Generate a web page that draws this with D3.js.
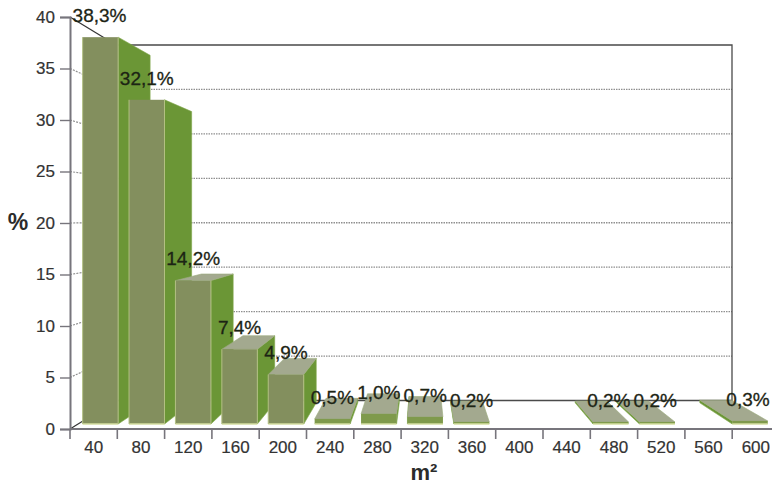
<!DOCTYPE html>
<html>
<head>
<meta charset="utf-8">
<script src="https://cdn.jsdelivr.net/npm/d3@7"></script>
<style>
html,body{margin:0;padding:0;background:#fff;overflow:hidden}
svg{display:block}
text{font-family:"Liberation Sans",Arial,sans-serif}
</style>
</head>
<body>
<svg id="chart" width="772" height="484"></svg>
<script>
const categories = ["40","80","120","160","200","240","280","320","360","400","440","480","520","560","600"];
const shares = [38.3,32.1,14.2,7.4,4.9,0.5,1.0,0.7,0.2,0,0,0.2,0.2,0,0.3];
const shareLabels = ["38,3%","32,1%","14,2%","7,4%","4,9%","0,5%","1,0%","0,7%","0,2%","","","0,2%","0,2%","","0,3%"];
const valueTicks = [0,5,10,15,20,25,30,35,40];

const svg = d3.select("#chart");
const AXIS = "#77757c", INK = "#2b2b2b";

// Axis scales on the front plane of the box
const yAxisScale = d3.scaleLinear().domain([0,40]).range([429,17]);
const xAxisScale = d3.scaleBand().domain(categories).range([70,779.5]);

// Scales for the bars' front faces and for the back wall
const yFront = d3.scaleLinear().domain([0,40]).range([424,20]);
const yWall = d3.scaleLinear().domain([0,40]).range([400.5,45]);
const xFront = d3.scaleBand().domain(categories).range([77.2,773.2]).paddingInner(0.235).paddingOuter(0.117);

// Perspective: a point on a bar's front face maps to its rear edge
const toBack = ([x,y]) => [44.4 + 0.895*x, 21.9 + 0.8985*y];
const vanishX = 423, vanishY = 216;
const wallLeft = 116, wallRight = 732;

// Back wall outline and gridlines
const grid = svg.append("g");
valueTicks.filter(v => v>0 && v<40).forEach(v => {
  grid.append("line").attr("x1",wallLeft).attr("x2",wallRight)
    .attr("y1",yWall(v)).attr("y2",yWall(v))
    .attr("stroke","#8f8f8f").attr("stroke-width",1.3).attr("stroke-dasharray","1.5 1");
});
valueTicks.forEach(v => {
  const edge = v===0 || v===40;
  grid.append("line").attr("x1",70).attr("x2",wallLeft)
    .attr("y1",yAxisScale(v)).attr("y2",yWall(v))
    .attr("stroke",edge ? "#333" : "#8f8f8f").attr("stroke-width",1.2)
    .attr("stroke-dasharray",edge ? null : "2 1.2");
});
grid.append("path")
  .attr("d",d3.line()([[wallLeft,yWall(0)],[wallRight,yWall(0)],[wallRight,yWall(40)],[wallLeft,yWall(40)]]))
  .attr("fill","none").attr("stroke","#4a4a4a").attr("stroke-width",1.3);

// Axes
const yAxis = d3.axisLeft(yAxisScale).tickValues(valueTicks).tickSize(10).tickPadding(5);
const gy = svg.append("g").attr("transform","translate(70,0)").call(yAxis);
const gx = svg.append("g").attr("transform","translate(0,429)")
  .call(d3.axisBottom(xAxisScale).tickSize(0).tickPadding(12));
gx.selectAll(".tick line").remove();
gx.selectAll(".tick").data(categories).append("line")
  .attr("x1",-xAxisScale.step()/2).attr("x2",-xAxisScale.step()/2)
  .attr("y1",0).attr("y2",10).attr("stroke",AXIS).attr("stroke-width",1.6);
gx.selectAll(".domain").attr("d","M70,0H772");
[gx,gy].forEach(g => {
  g.selectAll(".domain").attr("stroke",AXIS).attr("stroke-width",2);
  g.selectAll("text").attr("font-size",17).attr("fill","#333")
    .attr("stroke","#333").attr("stroke-width",0.2)
    .style("font-family",'"Liberation Sans",Arial,sans-serif');
});
gy.selectAll(".tick line").attr("stroke",AXIS).attr("stroke-width",1.4);

// Bars, painted left to right so nearer faces cover their neighbours' sides
const barGroup = svg.append("g");
const pts = a => a.map(p => p.join(",")).join(" ");
categories.forEach((c,i) => {
  const v = shares[i];
  if (!v) return;
  const x0 = xFront(c), x1 = x0 + xFront.bandwidth();
  const yT = yFront(v), yB = yFront(0);
  const g = barGroup.append("g");
  // Only the faces turned towards the viewpoint are drawn
  const sx = x1 < vanishX ? x1 : x0;
  g.append("polygon")
    .attr("points",pts([[sx,yT],toBack([sx,yT]),toBack([sx,yB]),[sx,yB]]))
    .attr("fill","#6b9636").attr("stroke","#7fa64a").attr("stroke-width",.6);
  if (yT > vanishY) {
    g.append("polygon")
      .attr("points",pts([[x0,yT],[x1,yT],toBack([x1,yT]),toBack([x0,yT])]))
      .attr("fill","#a3a98f").attr("stroke","#9bab7c").attr("stroke-width",.6);
  }
  g.append("rect").attr("x",x0).attr("y",yT).attr("width",x1-x0).attr("height",yB-yT)
    .attr("fill",v<2 ? "#7f9a4c" : "#838f5e");
  g.append("line").attr("x1",x0).attr("x2",x1).attr("y1",yB).attr("y2",yB)
    .attr("stroke","#d5dea2").attr("stroke-width",1.6);
  if (v>=2) {
    [x0,x1].forEach(x => g.append("line").attr("x1",x).attr("x2",x).attr("y1",yT).attr("y2",yB)
      .attr("stroke","#b3c084").attr("stroke-width",1));
  }
});

// Value labels
svg.append("g").selectAll("text").data(categories).join("text")
  .attr("x",(c,i) => i===0 ? 99.5 : xFront(c)+xFront.bandwidth()/2 - (i>8 ? 2 : 0))
  .attr("y",(c,i) => yFront(shares[i]) - 22)
  .attr("dy","0.36em")
  .attr("text-anchor","middle").attr("font-size",19).attr("fill","#1c2414")
  .attr("stroke","#1c2414").attr("stroke-width",0.3)
  .text((c,i) => shareLabels[i]);

// Axis titles
svg.append("text").attr("x",18).attr("y",230).attr("text-anchor","middle")
  .attr("font-size",23).attr("font-weight","bold").attr("fill",INK).text("%");
svg.append("text").attr("x",424).attr("y",480).attr("text-anchor","middle")
  .attr("font-size",22).attr("font-weight","bold").attr("fill",INK).text("m²");
</script>
</body>
</html>
